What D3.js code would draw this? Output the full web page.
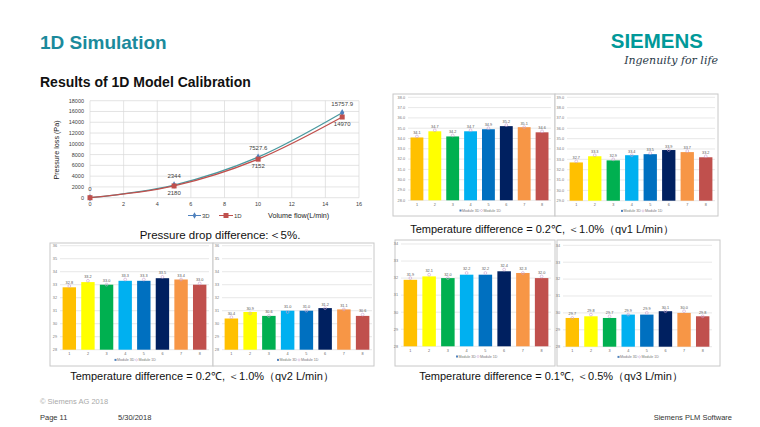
<!DOCTYPE html>
<html><head><meta charset="utf-8">
<script src="https://cdn.jsdelivr.net/npm/d3@7"></script>
<style>
html,body{margin:0;padding:0;background:#fff;}
svg{display:block;font-family:"Liberation Sans",Arial,sans-serif;}
</style></head>
<body>
<svg id="c" width="760" height="427"></svg>
<script>
// ---------- DATA ----------
const flowX = [0, 5, 10, 15];
const pressure3D = [0, 2344, 7527.6, 15757.9];
const pressure1D = [0, 2180, 7152, 14970];
const flowTicks = [0, 2, 4, 6, 8, 10, 12, 14, 16];
const pressureTicks = [0, 2000, 4000, 6000, 8000, 10000, 12000, 14000, 16000, 18000];

const barCats = ["1", "2", "3", "4", "5", "6", "7", "8"];
const qv1A_3D = [34.1, 34.7, 34.2, 34.7, 34.9, 35.2, 35.1, 34.6];
const qv1A_1D = [34.2, 34.8, 34.3, 34.8, 35.0, 35.3, 35.1, 34.7];
const qv1B_3D = [32.7, 33.3, 32.9, 33.4, 33.5, 33.9, 33.7, 33.2];
const qv1B_1D = [32.8, 33.4, 33.0, 33.4, 33.6, 33.9, 33.8, 33.3];
const qv2A_3D = [32.8, 33.2, 33.0, 33.3, 33.3, 33.5, 33.4, 33.0];
const qv2A_1D = [32.9, 33.3, 33.0, 33.4, 33.4, 33.6, 33.4, 33.1];
const qv2B_3D = [30.4, 30.9, 30.6, 31.0, 31.0, 31.2, 31.1, 30.6];
const qv2B_1D = [30.5, 30.8, 30.6, 30.9, 31.0, 31.2, 31.1, 30.7];
const qv3A_3D = [31.9, 32.1, 32.0, 32.2, 32.2, 32.4, 32.3, 32.0];
const qv3A_1D = [32.0, 32.2, 32.0, 32.3, 32.3, 32.5, 32.3, 32.1];
const qv3B_3D = [29.7, 29.8, 29.7, 29.9, 29.9, 30.1, 30.0, 29.8];
const qv3B_1D = [29.7, 29.9, 29.8, 29.9, 30.0, 30.1, 30.1, 29.8];
const ticksQv1A = [28, 29, 30, 31, 32, 33, 34, 35, 36, 37, 38];
const ticksQv1B = [29, 30, 31, 32, 33, 34, 35, 36, 37, 38, 39];
const ticksQv2 = [28, 29, 30, 31, 32, 33, 34, 35, 36];
const ticksQv3 = [28, 29, 30, 31, 32, 33, 34];
const seriesNames = ["Module 3D", "Module 1D"];

// ---------- STYLE ----------
const barColors = ["#ffc000", "#ffff00", "#00b050", "#00b0f0", "#0070c0", "#002060", "#f79646", "#c0504d"];
const teal = "#1b8a9c";

const svg = d3.select("#c");

// Header
svg.append("text").attr("x", 40).attr("y", 49).attr("font-size", 19).attr("font-weight", "bold")
  .attr("fill", teal).text("1D Simulation");
svg.append("text").attr("x", 40).attr("y", 87).attr("font-size", 14).attr("font-weight", "bold")
  .attr("fill", "#111").text("Results of 1D Model Calibration");
svg.append("text").attr("x", 703).attr("y", 48).attr("text-anchor", "end").attr("font-size", 20.5)
  .attr("font-weight", "bold").attr("fill", "#009999").text("SIEMENS");
svg.append("text").attr("x", 718).attr("y", 64).attr("text-anchor", "end").attr("font-size", 11)
  .attr("font-style", "italic").attr("fill", "#2b3a4a").attr("font-family", "DejaVu Serif, serif")
  .text("Ingenuity for life");

// ---------- LINE CHART ----------
const lx = d3.scaleLinear().domain([0, 16]).range([90, 359]);
const ly = d3.scaleLinear().domain([0, 18000]).range([197.7, 100.7]);
const lg = svg.append("g");
lg.append("g").selectAll("line").data(pressureTicks).join("line")
  .attr("x1", lx(0)).attr("x2", lx(16)).attr("y1", d => ly(d)).attr("y2", d => ly(d))
  .attr("stroke", "#d9d9d9").attr("stroke-width", 0.7);
lg.append("g").selectAll("line").data(flowTicks).join("line")
  .attr("x1", d => lx(d)).attr("x2", d => lx(d)).attr("y1", ly(0)).attr("y2", ly(18000))
  .attr("stroke", "#d9d9d9").attr("stroke-width", 0.7);
lg.append("g").selectAll("text").data(pressureTicks).join("text")
  .attr("x", 84).attr("y", d => ly(d) + 2).attr("text-anchor", "end").attr("font-size", 5.5)
  .attr("fill", "#404040").text(d => d);
lg.append("g").selectAll("text").data(flowTicks).join("text")
  .attr("x", d => lx(d)).attr("y", 206).attr("text-anchor", "middle").attr("font-size", 5.5)
  .attr("fill", "#404040").text(d => d);
lg.append("text").attr("transform", "translate(59,150) rotate(-90)").attr("text-anchor", "middle")
  .attr("font-size", 7.2).attr("fill", "#222").text("Pressure loss (Pa)");

const line = d3.line().x(d => lx(d[0])).y(d => ly(d[1])).curve(d3.curveMonotoneX);
const s3 = flowX.map((x, i) => [x, pressure3D[i]]);
const s1 = flowX.map((x, i) => [x, pressure1D[i]]);
const c3 = "#4f81bd", c1 = "#c0504d";
lg.append("path").datum(s3).attr("d", line).attr("fill", "none").attr("stroke", "#4a9aa0").attr("stroke-width", 1.3);
lg.append("path").datum(s1).attr("d", line).attr("fill", "none").attr("stroke", c1).attr("stroke-width", 1.3);
lg.append("g").selectAll("path").data(s3).join("path")
  .attr("d", d3.symbol(d3.symbolDiamond, 16)).attr("transform", d => `translate(${lx(d[0])},${ly(d[1])})`)
  .attr("fill", c3);
lg.append("g").selectAll("rect").data(s1).join("rect")
  .attr("x", d => lx(d[0]) - 2.5).attr("y", d => ly(d[1]) - 2.5).attr("width", 5).attr("height", 5)
  .attr("fill", c1);
lg.append("g").selectAll("text").data(s3).join("text")
  .attr("x", d => lx(d[0])).attr("y", d => ly(d[1]) - 7).attr("text-anchor", "middle")
  .attr("font-size", 6).attr("fill", "#404040").text(d => d[1]);
lg.append("g").selectAll("text").data(s1.filter(d => d[1] > 0)).join("text")
  .attr("x", d => lx(d[0])).attr("y", d => ly(d[1]) + 9).attr("text-anchor", "middle")
  .attr("font-size", 6).attr("fill", "#404040").text(d => d[1]);
// legend
lg.append("line").attr("x1", 188).attr("x2", 201).attr("y1", 215.5).attr("y2", 215.5).attr("stroke", c3).attr("stroke-width", 1);
lg.append("path").attr("d", d3.symbol(d3.symbolDiamond, 12)).attr("transform", "translate(194.5,215.5)").attr("fill", c3);
lg.append("text").attr("x", 202).attr("y", 218).attr("font-size", 6).attr("fill", "#404040").text("3D");
lg.append("line").attr("x1", 219).attr("x2", 233).attr("y1", 215.5).attr("y2", 215.5).attr("stroke", c1).attr("stroke-width", 1);
lg.append("rect").attr("x", 223.5).attr("y", 213).attr("width", 5).attr("height", 5).attr("fill", c1);
lg.append("text").attr("x", 234).attr("y", 218).attr("font-size", 6).attr("fill", "#404040").text("1D");
lg.append("text").attr("x", 268).attr("y", 218).attr("font-size", 7.2).attr("fill", "#222").text("Volume flow(L/min)");

svg.append("text").attr("x", 220).attr("y", 239).attr("text-anchor", "middle").attr("font-size", 11.5)
  .attr("fill", "#111").text("Pressure drop difference:＜5%.");

// ---------- BAR PANELS ----------
function barPanel(box, plot, ticks, v3, v1, fmt) {
  const g = svg.append("g");
  g.append("rect").attr("x", box[0]).attr("y", box[1]).attr("width", box[2]).attr("height", box[3])
    .attr("fill", "#fff").attr("stroke", "#c8c8c8").attr("stroke-width", 1);
  const x = d3.scaleBand().domain(barCats).range([plot[0], plot[1]]).paddingInner(0.28).paddingOuter(0.14);
  const y = d3.scaleLinear().domain([ticks[0], ticks[ticks.length - 1]]).range([plot[3], plot[2]]);
  g.append("g").selectAll("line").data(ticks).join("line")
    .attr("x1", plot[0]).attr("x2", plot[1]).attr("y1", d => y(d)).attr("y2", d => y(d))
    .attr("stroke", "#d9d9d9").attr("stroke-width", 0.6);
  g.append("g").selectAll("text").data(ticks).join("text")
    .attr("x", plot[0] - 3).attr("y", d => y(d) + 1.3).attr("text-anchor", "end")
    .attr("font-size", 3.8).attr("fill", "#777").text(d => fmt(d));
  g.append("g").selectAll("rect").data(v3).join("rect")
    .attr("x", (d, i) => x(barCats[i])).attr("width", x.bandwidth())
    .attr("y", d => y(d)).attr("height", d => y(ticks[0]) - y(d))
    .attr("fill", (d, i) => barColors[i]);
  g.append("g").selectAll("circle").data(v1).join("circle")
    .attr("cx", (d, i) => x(barCats[i]) + x.bandwidth() / 2).attr("cy", d => y(d))
    .attr("r", 1.4).attr("fill", "none").attr("stroke", "#c9a0d0").attr("stroke-width", 0.6);
  g.append("g").selectAll("text").data(v3).join("text")
    .attr("x", (d, i) => x(barCats[i]) + x.bandwidth() / 2).attr("y", (d, i) => Math.min(y(d), y(v1[i])) - 2.5)
    .attr("text-anchor", "middle").attr("font-size", 3.8).attr("fill", "#555").text(d => d.toFixed(1));
  g.append("g").selectAll("text").data(barCats).join("text")
    .attr("x", d => x(d) + x.bandwidth() / 2).attr("y", plot[3] + 5.5).attr("text-anchor", "middle")
    .attr("font-size", 3.8).attr("fill", "#666").text(d => d);
  const cx = (plot[0] + plot[1]) / 2;
  g.append("rect").attr("x", cx - 20).attr("y", plot[3] + 9.2).attr("width", 2).attr("height", 2).attr("fill", "#4f81bd");
  g.append("text").attr("x", cx - 17.5).attr("y", plot[3] + 11.2).attr("font-size", 3.6).attr("fill", "#777").text(seriesNames[0]);
  g.append("circle").attr("cx", cx + 2).attr("cy", plot[3] + 10.2).attr("r", 1).attr("fill", "none").attr("stroke", "#c9a0d0").attr("stroke-width", 0.5);
  g.append("text").attr("x", cx + 4).attr("y", plot[3] + 11.2).attr("font-size", 3.6).attr("fill", "#777").text(seriesNames[1]);
}
const f1 = d => d.toFixed(1), f0 = d => String(d);
barPanel([393, 94, 162, 122], [408, 551, 97.3, 200.3], ticksQv1A, qv1A_3D, qv1A_1D, f1);
barPanel([555, 94, 163, 122], [567, 715, 97.3, 200.7], ticksQv1B, qv1B_3D, qv1B_1D, f1);
barPanel([50, 243, 163, 123], [60, 209, 245.7, 349.7], ticksQv2, qv2A_3D, qv2A_1D, f0);
barPanel([213, 243, 161, 123], [222, 372, 245.7, 349.7], ticksQv2, qv2B_3D, qv2B_1D, f0);
barPanel([395, 240, 160, 126], [401, 551, 244, 346.3], ticksQv3, qv3A_3D, qv3A_1D, f0);
barPanel([557, 240, 163, 126], [563, 712, 245.3, 346.7], ticksQv3, qv3B_3D, qv3B_1D, f0);

// captions
const cap = (x, y, t) => svg.append("text").attr("x", x).attr("y", y).attr("text-anchor", "middle")
  .attr("font-size", 11).attr("fill", "#111").text(t);
cap(542, 233, "Temperature difference = 0.2℃, ＜1.0%（qv1 L/min）");
cap(202, 380, "Temperature difference = 0.2℃, ＜1.0%（qv2 L/min）");
cap(551, 380, "Temperature difference = 0.1℃, ＜0.5%（qv3 L/min）");

// footer
svg.append("text").attr("x", 40).attr("y", 404).attr("font-size", 7.5).attr("fill", "#aaa").text("© Siemens AG 2018");
svg.append("text").attr("x", 40).attr("y", 420).attr("font-size", 7.5).attr("fill", "#333").text("Page 11");
svg.append("text").attr("x", 118).attr("y", 420).attr("font-size", 7.5).attr("fill", "#333").text("5/30/2018");
svg.append("text").attr("x", 732).attr("y", 420).attr("text-anchor", "end").attr("font-size", 7.5).attr("fill", "#333").text("Siemens PLM Software");
</script>
</body></html>
